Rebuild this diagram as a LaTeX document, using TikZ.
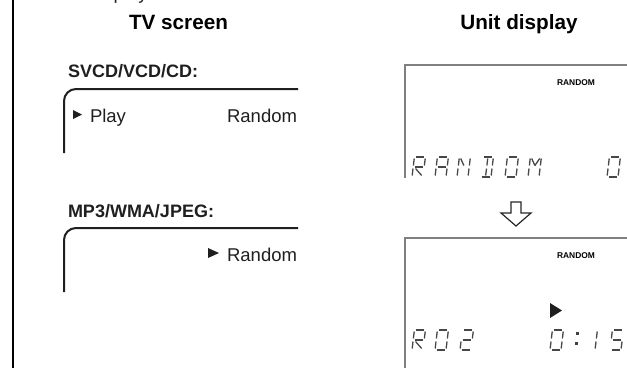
\documentclass[tikz,border=0pt]{standalone}
\usepackage{fontspec}
\setmainfont{Liberation Sans}
\begin{document}
\begin{tikzpicture}[x=1pt,y=-1pt,
  every node/.style={inner sep=0pt,outer sep=0pt},
  hdr/.style={font=\fontsize{20.7}{24}\selectfont\bfseries},
  sub/.style={font=\fontsize{18}{22}\selectfont\bfseries,text=black!88},
  txt/.style={font=\fontsize{18.5}{22}\selectfont,text=black!88},
  tiny/.style={font=\fontsize{8.4}{10}\selectfont\bfseries},
  tvbox/.style={line width=2pt,draw=black!88,rounded corners=12pt},
  panel/.style={line width=2pt,draw=black!50},
  seg/.style={line width=1.3pt,draw=black!72,line cap=butt},
  hollow/.style={line width=1.2pt,draw=black!85,line join=miter}
]
\useasboundingbox (0,0) rectangle (627,368);
\begin{scope}
\clip (0,0) rectangle (627,368);
\node[txt,anchor=base west] (top) at (90,-0.5) {display};
\end{scope}

% left border
\coordinate (b1) at (13,0);
\coordinate (b2) at (13,368);
\draw[line width=2pt] (b1) -- (b2);

% headers
\node[hdr,anchor=base] (tv) at (178.5,29.5) {TV screen};
\node[hdr,anchor=base] (ud) at (519,29.5) {Unit display};

% TV screen boxes
\node[sub,anchor=base west] (l1) at (68,77) {SVCD/VCD/CD:};
\draw[tvbox] (298,89) -- (64,89) -- (64,153);
\fill[black!88] (73,110) -- (82,114.5) -- (73,119) -- cycle;
\node[txt,anchor=base west] (play) at (90,122) {Play};
\node[txt,anchor=base east] (r1) at (297,122) {Random};

\node[sub,anchor=base west] (l2) at (68,217) {MP3/WMA/JPEG:};
\draw[tvbox] (298,228) -- (64,228) -- (64,292);
\fill[black!88] (208,248) -- (219,253) -- (208,258) -- cycle;
\node[txt,anchor=base east] (r2) at (297,261) {Random};

% unit display panels
\draw[panel] (627,65) -- (405,65) -- (405,178);
\node[tiny,anchor=center] (rd1) at (576,83) {RANDOM};
\draw[panel] (627,238) -- (405,238) -- (405,368);
\node[tiny,anchor=center] (rd2) at (576,256) {RANDOM};
\fill[black!88] (550,303) -- (562,310.5) -- (550,318) -- cycle;

% hollow down arrow
\draw[hollow] (511,202) -- (521,202) -- (521,213) -- (531,213) -- (516,226) -- (501,213) -- (511,213) -- cycle;

% seven segment characters
\def\W{11}\def\H{20}\def\G{1.5}
\def\sega{\draw[seg] (\G,-\H) -- (\W-\G,-\H);}
\def\segb{\draw[seg] (\W,-\H+\G) -- (\W,-\H/2-\G);}
\def\segc{\draw[seg] (\W,-\H/2+\G) -- (\W,-\G);}
\def\segd{\draw[seg] (\G,0) -- (\W-\G,0);}
\def\sege{\draw[seg] (0,-\H/2+\G) -- (0,-\G);}
\def\segf{\draw[seg] (0,-\H+\G) -- (0,-\H/2-\G);}
\def\segg{\draw[seg] (\G,-\H/2) -- (\W-\G,-\H/2);}
\def\segr{\draw[seg] (\G+1,-\H/2+\G) -- (\W-\G,-\G);}
\def\segn{\draw[seg] (\G,-\H+\G) -- (\W/2,-\H/2-\G);}
\def\segm{\draw[seg] (\W-\G,-\H+\G) -- (\W/2,-\H/2-\G);}
\def\segu{\draw[seg] (\W/2,-\H+\G) -- (\W/2,-\H/2-\G);}
\def\segl{\draw[seg] (\W/2,-\H/2+\G) -- (\W/2,-\G);}
\newcommand\segs[3]{%
 \begin{scope}[shift={(#1,#2)},xslant=0.12]
 \foreach \s in {#3}{\csname seg\s\endcsname}
 \end{scope}}
% RANDOM  0
\segs{412}{177}{a,b,f,g,e,r}
\segs{435}{177}{a,b,c,e,f,g}
\segs{457}{177}{b,c,e,f,n}
\segs{480}{177}{a,b,c,d,u,l}
\segs{505}{177}{a,b,c,d,e,f}
\segs{528}{177}{b,c,e,f,n,m}
\segs{607}{177}{a,b,c,d,e,f}
% R02   0:15
\segs{412}{350}{a,b,f,g,e,r}
\segs{435}{350}{a,b,c,d,e,f}
\segs{460}{350}{a,b,g,e,d}
\segs{550}{350}{a,b,c,d,e,f}
\fill[black!75] (576,332) rectangle (578.5,334.5);
\fill[black!75] (575,342) rectangle (577.5,344.5);
\segs{584}{350}{b,c}
\segs{610}{350}{a,f,g,c,d}
\end{tikzpicture}
\end{document}
